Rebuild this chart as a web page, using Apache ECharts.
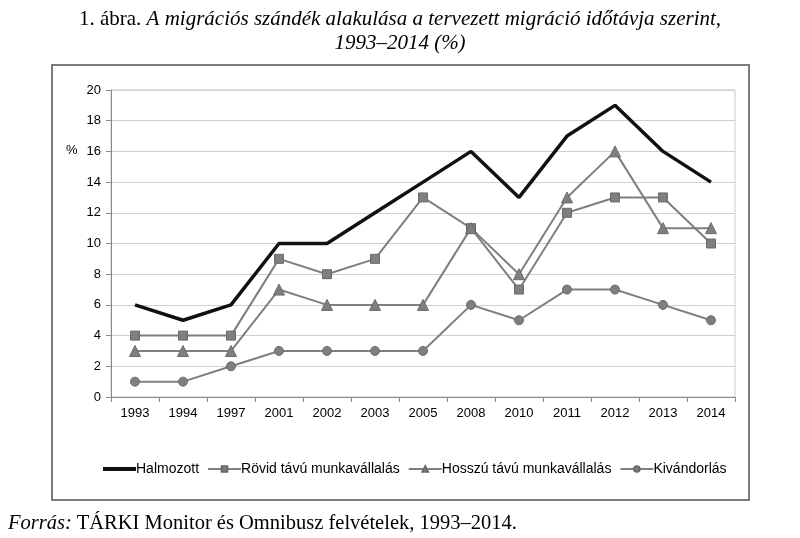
<!DOCTYPE html>
<html><head><meta charset="utf-8">
<script src="https://cdn.jsdelivr.net/npm/echarts@6/dist/echarts.min.js"></script>
<style>html,body{margin:0;padding:0;background:#fff}#c{width:800px;height:538px}</style>
</head><body><div id="c"></div>
<script>
const years = ['1993','1994','1997','2001','2002','2003','2005','2008','2010','2011','2012','2013','2014'];
const halmozott = [6,5,6,10,10,12,14,16,13,17,19,16,14];
const rovid = [4,4,4,9,8,9,13,11,7,12,13,13,10];
const hosszu = [3,3,3,7,6,6,6,11,8,13,16,11,11];
const kivandorlas = [1,1,2,3,3,3,3,6,5,7,7,6,5];
const yTicks = {min:0, max:20, interval:2};

const chart = echarts.init(document.getElementById('c'));
const gray = '#7f7f7f';
function graySeries(name, data, symbol, size){
  return {name, type:'line', data, symbol, symbolSize:size,
    lineStyle:{color:gray, width:2}, itemStyle:{color:gray, borderColor:'#6a6a6a', borderWidth:1},
    emphasis:{disabled:true}, animation:false};
}
const serif = {fontFamily:'Liberation Serif', fontSize:21, color:'#000', fontWeight:'normal', lineHeight:24};
const foot = {fontFamily:'Liberation Serif', fontSize:20.5, color:'#000', fontWeight:'normal'};
chart.setOption({
  animation:false,
  title:[{
    text:'{n|1. ábra. }{i|A migrációs szándék alakulása a tervezett migráció időtávja szerint,}\n{i|1993–2014 (%)}',
    left:'center', top:7, padding:0,
    textStyle:{fontWeight:'normal', align:'center', rich:{
      n:Object.assign({}, serif),
      i:Object.assign({}, serif, {fontStyle:'italic'})
    }}
  },{
    text:'{i|Forrás:} {n|TÁRKI Monitor és Omnibusz felvételek, 1993–2014.}',
    left:8, top:513, padding:0,
    textStyle:{fontWeight:'normal', rich:{
      n:Object.assign({}, foot),
      i:Object.assign({}, foot, {fontStyle:'italic'})
    }}
  }],
  graphic:[{type:'rect', shape:{x:52,y:65,width:697,height:435}, style:{fill:'none', stroke:'#7a7a7a', lineWidth:2}, z:-1},
    {type:'text', left:66, top:144, style:{text:'%', fontFamily:'Liberation Sans', fontSize:13, fill:'#000'}}],
  legend:{left:96, top:457, itemWidth:33, itemHeight:7, itemGap:8,
    textStyle:{fontFamily:'Liberation Sans', fontSize:14, color:'#000', padding:[0,0,0,-5]},
    data:[{name:'Halmozott', itemStyle:{opacity:0}, lineStyle:{width:4, color:'#111'}},
      'Rövid távú munkavállalás','Hosszú távú munkavállalás','Kivándorlás']},
  grid:{left:111, top:90, right:65, bottom:141, show:true, borderColor:'#c8c8c8', borderWidth:1},
  xAxis:{type:'category', data:years, boundaryGap:true,
    axisLine:{lineStyle:{color:'#8a8a8a', width:1}},
    axisTick:{show:true, length:5, lineStyle:{color:'#8a8a8a'}},
    axisLabel:{fontFamily:'Liberation Sans', fontSize:13, color:'#000', margin:10}},
  yAxis:{type:'value', min:yTicks.min, max:yTicks.max, interval:yTicks.interval,
    axisLine:{show:true, lineStyle:{color:'#8a8a8a'}},
    axisTick:{show:true, length:5, lineStyle:{color:'#8a8a8a'}},
    splitLine:{lineStyle:{color:'#d0d0d0', width:1}},
    axisLabel:{fontFamily:'Liberation Sans', fontSize:13, color:'#000', margin:10}},
  series:[
    {name:'Halmozott', type:'line', data:halmozott, symbol:'none', lineStyle:{color:'#111', width:3.5}, itemStyle:{color:'#111'}, z:5},
    graySeries('Rövid távú munkavállalás', rovid, 'rect', 9),
    graySeries('Hosszú távú munkavállalás', hosszu, 'triangle', 11),
    graySeries('Kivándorlás', kivandorlas, 'circle', 9)
  ]
});
</script></body></html>
